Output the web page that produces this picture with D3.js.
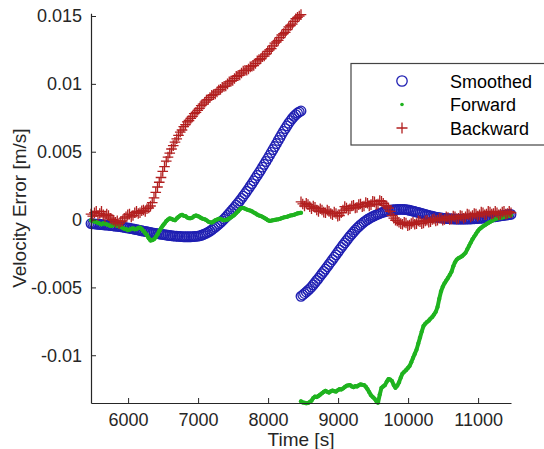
<!DOCTYPE html>
<html><head><meta charset="utf-8">
<script src="https://cdn.jsdelivr.net/npm/d3@7"></script>
<style>
body{margin:0;background:#fff;}
svg{display:block;font-family:"Liberation Sans",Arial,Helvetica,sans-serif;}
</style>
</head><body>
<svg id="chart" width="544" height="449"></svg>
<script>
// ---------- data ----------
const xTicks = [6000, 7000, 8000, 9000, 10000, 11000];
const yTicks = [-0.01, -0.005, 0, 0.005, 0.01, 0.015];
const yTickLabels = ["-0.01", "-0.005", "0", "0.005", "0.01", "0.015"];
const seriesNames = ["Smoothed", "Forward", "Backward"];

// sample times [s] (two segments, 25 s sampling)
const time1 = d3.range(5470, 8471, 25);
const time2 = d3.range(8470, 11471, 25);

// values in units of 1e-3 m/s (mm/s)
const smoothed1 = [-0.30,-0.31,-0.32,-0.34,-0.35,-0.36,-0.37,-0.39,-0.40,-0.41,
  -0.42,-0.44,-0.45,-0.47,-0.48,-0.50,-0.51,-0.53,-0.55,-0.58,
  -0.60,-0.62,-0.64,-0.67,-0.69,-0.72,-0.74,-0.77,-0.80,-0.83,
  -0.85,-0.88,-0.90,-0.93,-0.95,-0.98,-1.00,-1.02,-1.04,-1.06,
  -1.08,-1.10,-1.12,-1.14,-1.16,-1.18,-1.19,-1.21,-1.22,-1.23,
  -1.24,-1.25,-1.26,-1.27,-1.27,-1.27,-1.27,-1.27,-1.26,-1.25,
  -1.24,-1.22,-1.20,-1.16,-1.12,-1.06,-1.00,-0.93,-0.85,-0.76,
  -0.66,-0.56,-0.45,-0.34,-0.22,-0.10,0.03,0.16,0.30,0.45,
  0.60,0.75,0.90,1.06,1.22,1.38,1.55,1.72,1.90,2.08,
  2.27,2.46,2.65,2.85,3.05,3.25,3.45,3.65,3.86,4.07,
  4.28,4.50,4.72,4.94,5.16,5.38,5.60,5.83,6.05,6.28,
  6.50,6.70,6.90,7.10,7.28,7.45,7.60,7.73,7.85,7.93,
  8.00];
const smoothed2 = [-5.66,-5.56,-5.45,-5.34,-5.22,-5.10,-4.97,-4.81,-4.65,-4.49,
  -4.33,-4.16,-3.99,-3.82,-3.65,-3.48,-3.30,-3.13,-2.95,-2.78,
  -2.60,-2.42,-2.24,-2.06,-1.89,-1.72,-1.55,-1.38,-1.22,-1.07,
  -0.92,-0.78,-0.64,-0.52,-0.40,-0.29,-0.18,-0.09,0.00,0.08,
  0.15,0.22,0.28,0.34,0.40,0.45,0.50,0.54,0.58,0.62,
  0.65,0.68,0.70,0.72,0.73,0.74,0.75,0.75,0.75,0.74,
  0.73,0.71,0.68,0.65,0.62,0.59,0.55,0.52,0.48,0.45,
  0.41,0.38,0.34,0.31,0.27,0.24,0.21,0.18,0.16,0.14,
  0.12,0.10,0.09,0.08,0.07,0.06,0.05,0.04,0.04,0.03,
  0.03,0.03,0.03,0.03,0.03,0.04,0.04,0.04,0.05,0.06,
  0.07,0.08,0.09,0.10,0.11,0.12,0.14,0.15,0.17,0.18,
  0.20,0.21,0.23,0.25,0.27,0.29,0.31,0.33,0.35,0.37,
  0.38];
const forward1 = [-0.05,-0.12,-0.15,-0.18,-0.25,-0.30,-0.35,-0.28,-0.30,-0.36,
  -0.40,-0.47,-0.45,-0.38,-0.40,-0.47,-0.50,-0.53,-0.60,-0.68,
  -0.70,-0.78,-0.75,-0.68,-0.65,-0.72,-0.70,-0.62,-0.60,-0.70,
  -0.85,-1.00,-1.15,-1.38,-1.55,-1.52,-1.45,-1.30,-1.10,-0.85,
  -0.65,-0.45,-0.30,-0.12,0.00,0.08,0.05,-0.02,-0.05,0.08,
  0.20,0.30,0.35,0.28,0.25,0.15,0.10,0.10,0.15,0.25,
  0.30,0.25,0.20,0.10,0.05,0.02,-0.05,-0.15,-0.20,-0.22,
  -0.15,-0.05,0.00,0.06,0.05,-0.02,-0.05,-0.03,0.00,0.08,
  0.15,0.25,0.35,0.48,0.60,0.75,0.85,0.86,0.80,0.74,
  0.70,0.66,0.60,0.52,0.45,0.36,0.30,0.26,0.20,0.12,
  0.05,-0.05,-0.10,-0.08,-0.05,-0.03,0.00,0.02,0.05,0.10,
  0.15,0.18,0.20,0.25,0.30,0.32,0.35,0.40,0.45,0.48,
  0.50];
const forward2 = [-13.40,-13.48,-13.50,-13.54,-13.52,-13.45,-13.35,-13.15,-13.05,-13.08,
  -13.00,-12.90,-12.80,-12.70,-12.62,-12.70,-12.75,-12.66,-12.60,-12.65,
  -12.68,-12.58,-12.50,-12.52,-12.45,-12.35,-12.25,-12.22,-12.20,-12.30,
  -12.35,-12.28,-12.30,-12.22,-12.15,-12.18,-12.20,-12.32,-12.50,-12.72,
  -12.95,-13.08,-13.20,-13.38,-13.50,-12.90,-12.40,-12.30,-12.20,-11.95,
  -11.75,-11.80,-11.90,-12.20,-12.40,-12.25,-12.00,-11.65,-11.35,-11.22,
  -11.10,-10.95,-10.80,-10.52,-10.20,-9.90,-9.60,-9.15,-8.70,-8.25,
  -7.85,-7.68,-7.55,-7.45,-7.30,-7.18,-7.00,-6.80,-6.45,-5.85,
  -5.30,-4.95,-4.70,-4.50,-4.30,-4.08,-3.85,-3.45,-3.15,-2.95,
  -2.85,-2.78,-2.70,-2.58,-2.45,-2.20,-1.95,-1.70,-1.45,-1.25,
  -1.05,-0.86,-0.70,-0.60,-0.50,-0.42,-0.33,-0.25,-0.18,-0.10,
  -0.02,0.03,0.08,0.10,0.13,0.15,0.18,0.21,0.25,0.28,
  0.32];
const backward1 = [0.40,0.25,0.50,0.60,0.30,0.45,0.60,0.35,0.20,0.40,
  0.30,0.10,0.00,-0.05,-0.20,-0.10,-0.30,-0.15,-0.10,0.10,
  0.20,0.35,0.40,0.20,0.30,0.50,0.60,0.45,0.50,0.65,
  0.70,0.60,0.80,0.85,1.00,1.25,1.60,2.00,2.40,2.75,
  3.10,3.55,3.90,4.30,4.60,4.90,5.20,5.45,5.70,5.95,
  6.20,6.45,6.60,6.85,7.00,7.20,7.30,7.45,7.60,7.80,
  7.90,8.05,8.20,8.40,8.50,8.65,8.80,8.85,9.00,9.15,
  9.20,9.25,9.40,9.55,9.60,9.75,9.80,9.85,10.00,10.15,
  10.20,10.25,10.40,10.55,10.60,10.65,10.80,10.95,11.00,11.00,
  11.10,11.25,11.30,11.35,11.50,11.70,11.80,11.85,12.00,12.05,
  12.20,12.40,12.50,12.60,12.80,13.00,13.10,13.20,13.40,13.60,
  13.70,13.80,14.00,14.20,14.30,14.40,14.60,14.80,14.90,15.00,
  15.10];
const backward2 = [1.30,1.15,1.00,1.20,1.10,0.95,0.80,1.00,0.90,0.70,
  0.60,0.80,0.70,0.55,0.50,0.70,0.60,0.45,0.35,0.55,
  0.45,0.25,0.30,0.50,0.70,0.95,0.85,0.70,0.80,1.00,
  1.05,0.85,0.90,1.10,1.15,0.95,1.00,1.25,1.20,1.00,
  1.10,1.35,1.30,1.10,1.15,1.40,1.35,1.20,1.05,1.00,
  0.85,0.60,0.30,0.10,-0.05,-0.10,-0.20,-0.30,-0.35,-0.20,
  -0.25,-0.45,-0.40,-0.30,-0.20,-0.35,-0.30,-0.10,-0.15,-0.30,
  -0.25,-0.10,-0.05,-0.20,-0.15,0.00,0.05,-0.10,-0.05,0.10,
  0.10,-0.05,0.00,0.20,0.15,0.00,0.05,0.25,0.20,0.05,
  0.10,0.30,0.25,0.10,0.20,0.40,0.35,0.20,0.30,0.45,
  0.40,0.25,0.35,0.55,0.50,0.35,0.40,0.60,0.55,0.40,
  0.45,0.60,0.50,0.35,0.40,0.55,0.60,0.40,0.45,0.60,
  0.50];

const xDomain = [5470, 11470];
const yDomain = [-0.01352, 0.0152];

// ---------- drawing ----------
const svg = d3.select("#chart");
const plotL = 91, plotR = 511, plotT = 13.3, plotB = 403;
const x = d3.scaleLinear().domain(xDomain).range([plotL, plotR]);
const y = d3.scaleLinear().domain(yDomain).range([plotB, plotT]);
const axisColor = "#262626";
const colors = {Smoothed: "#1f1fb2", Forward: "#1fb31f", Backward: "#b21f1f"};

const toPts = (ts, vs) => ts.map((t, i) => ({t, v: vs[i] / 1000}));
const smoothed = [toPts(time1, smoothed1), toPts(time2, smoothed2)];
const forward = [toPts(time1, forward1), toPts(time2, forward2)];
const backward = [toPts(time1, backward1), toPts(time2, backward2)];

// Smoothed circles
const gS = svg.append("g");
smoothed.forEach(seg => {
  gS.selectAll(null).data(seg).enter().append("circle")
    .attr("cx", d => x(d.t)).attr("cy", d => y(d.v)).attr("r", 4.8)
    .attr("fill", "none").attr("stroke", colors.Smoothed).attr("stroke-width", 1.3);
});

// Forward dots (dense -> thick trace)
const gF = svg.append("g");
const line = d3.line().x(d => x(d.t)).y(d => y(d.v));
forward.forEach(seg => {
  gF.append("path").attr("d", line(seg)).attr("fill", "none")
    .attr("stroke", colors.Forward).attr("stroke-width", 4)
    .attr("stroke-linejoin", "round").attr("stroke-linecap", "round");
  gF.selectAll(null).data(seg).enter().append("circle")
    .attr("cx", d => x(d.t)).attr("cy", d => y(d.v)).attr("r", 2.1)
    .attr("fill", colors.Forward);
});

// Backward plus markers
const gB = svg.append("g");
const plusPath = (cx, cy, s) => `M${cx - s},${cy}H${cx + s}M${cx},${cy - s}V${cy + s}`;
backward.forEach(seg => {
  gB.selectAll(null).data(seg).enter().append("path")
    .attr("d", d => plusPath(x(d.t), y(d.v), 5.3))
    .attr("stroke", colors.Backward).attr("stroke-width", 1.3).attr("fill", "none");
});

// Axes
const xAxis = d3.axisBottom(x).tickValues(xTicks).tickSizeInner(-5).tickSizeOuter(0).tickPadding(10).tickFormat(d3.format("d"));
const yAxis = d3.axisLeft(y).tickValues(yTicks).tickSizeInner(-5).tickSizeOuter(0).tickPadding(9)
  .tickFormat((d, i) => yTickLabels[i]);
const gx = svg.append("g").attr("transform", `translate(0,${plotB})`).call(xAxis);
const gy = svg.append("g").attr("transform", `translate(${plotL},0)`).call(yAxis);
[gx, gy].forEach(g => {
  g.select(".domain").attr("stroke", axisColor).attr("stroke-width", 1.2);
  g.selectAll(".tick line").attr("stroke", axisColor).attr("stroke-width", 1);
  g.selectAll(".tick text").attr("fill", axisColor).style("font-size", "18px")
    .style("font-family", '"Liberation Sans",Arial,sans-serif');
});

// Axis labels
svg.append("text").attr("x", (plotL + plotR) / 2).attr("y", 446).attr("text-anchor", "middle")
  .attr("fill", axisColor).style("font-size", "19px").text("Time [s]");
svg.append("text").attr("transform", `translate(26,${(plotT + plotB) / 2}) rotate(-90)`)
  .attr("text-anchor", "middle").attr("fill", axisColor).style("font-size", "19px")
  .text("Velocity Error [m/s]");

// Legend
const lg = svg.append("g");
lg.append("rect").attr("x", 351).attr("y", 63.5).attr("width", 200).attr("height", 81.5)
  .attr("fill", "#fff").attr("stroke", "#444").attr("stroke-width", 1.2);
const legY = [81, 104.5, 128];
seriesNames.forEach((name, i) => {
  const cy = legY[i], cx = 402;
  if (name === "Smoothed") {
    lg.append("circle").attr("cx", cx).attr("cy", cy).attr("r", 5.2)
      .attr("fill", "none").attr("stroke", colors.Smoothed).attr("stroke-width", 1.3);
  } else if (name === "Forward") {
    lg.append("circle").attr("cx", cx).attr("cy", cy).attr("r", 1.8).attr("fill", colors.Forward);
  } else {
    lg.append("path").attr("d", plusPath(cx, cy, 5.5)).attr("stroke", colors.Backward)
      .attr("stroke-width", 1.3);
  }
  lg.append("text").attr("x", 450).attr("y", cy + 6.5).attr("fill", "#000")
    .style("font-size", "18px").text(name);
});
</script>
</body></html>
